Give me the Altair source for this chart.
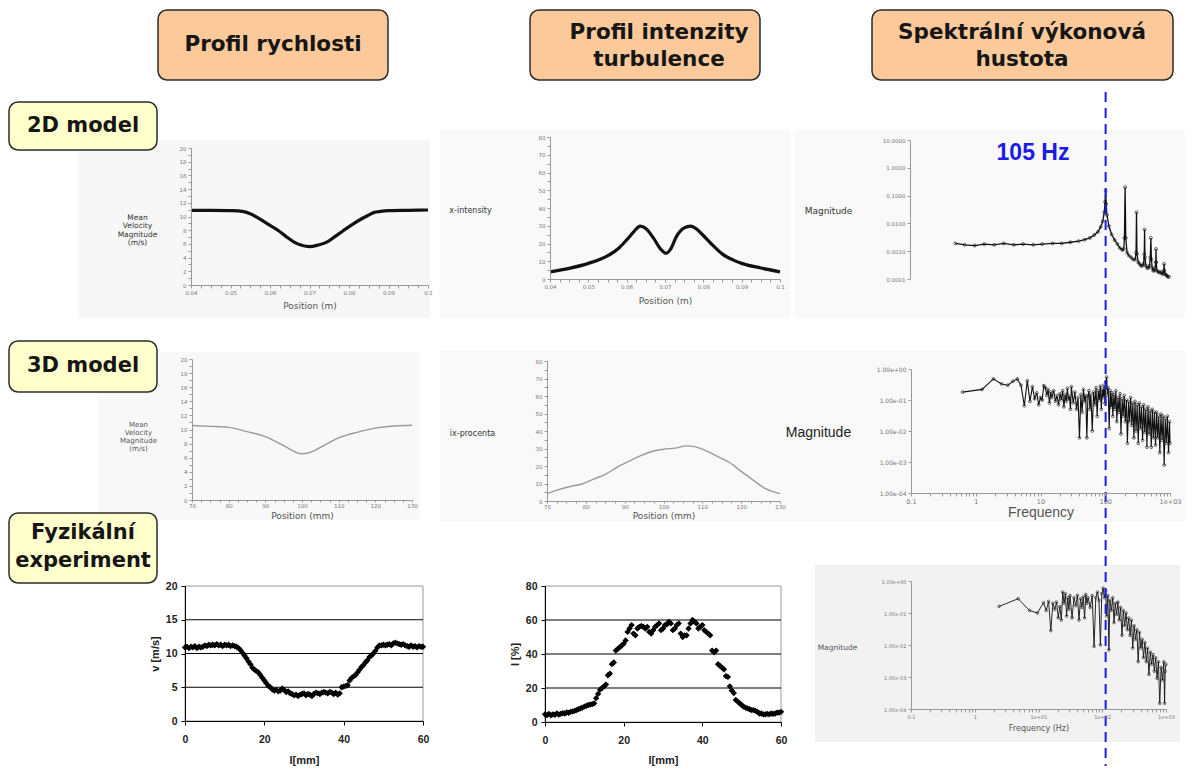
import altair as alt
import pandas as pd

# ---------------- data ----------------
# Row 1: 2D model
vel2d_pos = [0.040, 0.045, 0.050, 0.053, 0.055, 0.0575, 0.060, 0.062, 0.064, 0.066, 0.068, 0.070,
             0.072, 0.0745, 0.0765, 0.0787, 0.081, 0.083, 0.085, 0.0864, 0.088, 0.090, 0.095, 0.100]
vel2d_val = [10.9, 10.9, 10.85, 10.75, 10.4, 9.6, 8.7, 8.0, 7.1, 6.3, 5.8, 5.6,
             5.8, 6.3, 7.1, 8.0, 8.9, 9.6, 10.2, 10.6, 10.75, 10.85, 10.9, 10.95]

int2d_pos = [0.040, 0.045, 0.050, 0.055, 0.058, 0.060, 0.062, 0.0635, 0.065, 0.067, 0.069, 0.0703,
             0.0715, 0.073, 0.075, 0.0767, 0.078, 0.080, 0.082, 0.085, 0.088, 0.090, 0.095, 0.100]
int2d_val = [4.0, 6.0, 8.8, 13.0, 17.5, 22.0, 27.0, 29.8, 28.5, 23.0, 16.5, 14.5,
             17.0, 24.0, 28.8, 29.8, 28.5, 24.5, 20.0, 14.0, 10.5, 8.8, 6.2, 4.0]

psd2d_f = [0.5, 0.7, 1.0, 1.4, 2.0, 2.8, 4.0, 5.6, 8.0, 11.0,
           16.0, 22.0, 30.0, 40.0, 50.0, 60.0, 70.0, 80.0, 88.0, 95.0,
           100.0, 103.0, 105.0, 107.0, 110.0, 118.0, 130.0, 145.0, 160.0, 175.0,
           190.0, 200.0, 205.0, 210.0, 215.0, 225.0, 240.0, 260.0, 280.0, 300.0,
           310.0, 315.0, 320.0, 335.0, 350.0, 370.0, 390.0, 405.0, 415.0, 420.0,
           425.0, 440.0, 460.0, 480.0, 500.0, 515.0, 525.0, 535.0, 550.0, 570.0,
           590.0, 610.0, 625.0, 630.0, 635.0, 650.0, 680.0, 710.0, 740.0, 770.0,
           800.0, 830.0, 840.0, 850.0, 870.0, 900.0, 930.0, 960.0, 1000.0]
psd2d_m = [0.0019, 0.0017, 0.0016, 0.0018, 0.0017, 0.0019, 0.0017, 0.0018, 0.0017, 0.0018,
           0.0019, 0.0019, 0.0021, 0.0023, 0.0026, 0.0030, 0.0038, 0.0050, 0.0075, 0.012,
           0.025, 0.06, 0.15, 0.05, 0.02, 0.008, 0.004, 0.0025, 0.0018, 0.0013,
           0.0011, 0.0012, 0.003, 0.2, 0.003, 0.0009, 0.0007, 0.0006, 0.0005, 0.0005,
           0.0009, 0.025, 0.0008, 0.0004, 0.00035, 0.0003, 0.0003, 0.00035, 0.0008, 0.006,
           0.0006, 0.0003, 0.00025, 0.00025, 0.0003, 0.0006, 0.003, 0.0005, 0.00025, 0.0002,
           0.0002, 0.00025, 0.0004, 0.0012, 0.0004, 0.0002, 0.00018, 0.00017, 0.00018, 0.00016,
           0.00015, 0.0002, 0.00035, 0.0002, 0.00015, 0.00014, 0.00013, 0.00012, 0.00012]
peak_hz = 105

# Row 2: 3D model
vel3d_pos = [70, 75, 80, 85, 90, 95, 100, 103, 105, 110, 115, 120, 125, 130]
vel3d_val = [10.57, 10.45, 10.3, 9.7, 9.0, 7.7, 6.55, 6.9, 7.45, 8.8, 9.6, 10.2, 10.5, 10.6]

int3d_pos = [70, 73, 76, 79, 82, 85, 88, 91, 94, 97, 100, 103, 106, 108, 111, 114, 117, 120,
             123, 126, 128, 130]
int3d_val = [4.2, 6.5, 8.3, 9.7, 12.5, 15.2, 19.2, 22.6, 25.8, 28.3, 29.6, 30.2, 31.5, 31.1,
             28.7, 25.4, 22.0, 16.9, 12.1, 7.4, 5.5, 4.2]

psd3d_f = [0.625, 1.25, 1.875, 2.5, 3.125, 3.75, 4.375, 5.0, 5.625, 6.25,
           6.875, 7.5, 8.125, 8.75, 9.375, 10.0, 10.6, 11.25, 11.9, 12.5,
           13.1, 13.75, 14.4, 15.0, 16.0, 17.0, 18.0, 19.0, 20.0, 21.0,
           22.0, 23.0, 24.0, 25.0, 26.0, 27.0, 28.0, 29.0, 30.0, 32.0,
           34.0, 36.0, 38.0, 40.0, 42.0, 44.0, 46.0, 48.0, 50.0, 52.0,
           54.0, 56.0, 58.0, 60.0, 63.0, 66.0, 69.0, 72.0, 75.0, 78.0,
           81.0, 84.0, 87.0, 90.0, 93.0, 96.0, 99.0, 102.0, 105.0, 108.0,
           111.0, 115.0, 119.0, 123.0, 127.0, 131.0, 136.0, 141.0, 146.0, 151.0,
           157.0, 163.0, 169.0, 175.0, 182.0, 189.0, 196.0, 204.0, 212.0, 220.0,
           229.0, 238.0, 247.0, 257.0, 267.0, 277.0, 288.0, 299.0, 311.0, 323.0,
           336.0, 349.0, 363.0, 377.0, 392.0, 407.0, 423.0, 440.0, 457.0, 475.0,
           494.0, 513.0, 533.0, 554.0, 576.0, 598.0, 622.0, 646.0, 671.0, 697.0,
           725.0, 753.0, 783.0, 813.0, 845.0, 878.0, 912.0, 948.0, 985.0, 1000.0]
psd3d_m = [0.18, 0.22, 0.48, 0.33, 0.30, 0.40, 0.48, 0.30, 0.065, 0.42,
           0.09, 0.27, 0.11, 0.17, 0.07, 0.12, 0.10, 0.29, 0.25, 0.14,
           0.22, 0.08, 0.18, 0.12, 0.20, 0.09, 0.14, 0.07, 0.16, 0.10,
           0.20, 0.06, 0.15, 0.09, 0.24, 0.11, 0.13, 0.05, 0.27, 0.08,
           0.18, 0.05, 0.12, 0.006, 0.15, 0.04, 0.22, 0.09, 0.14, 0.006,
           0.13, 0.20, 0.05, 0.15, 0.01, 0.18, 0.07, 0.25, 0.03, 0.20,
           0.10, 0.28, 0.05, 0.22, 0.12, 0.30, 0.08, 0.38, 0.55, 0.15,
           0.25, 0.012, 0.20, 0.06, 0.17, 0.03, 0.15, 0.05, 0.20, 0.02,
           0.12, 0.04, 0.16, 0.008, 0.11, 0.03, 0.14, 0.02, 0.10, 0.004,
           0.09, 0.02, 0.12, 0.015, 0.08, 0.006, 0.09, 0.01, 0.07, 0.004,
           0.08, 0.012, 0.06, 0.005, 0.07, 0.009, 0.05, 0.003, 0.06, 0.008,
           0.045, 0.003, 0.05, 0.006, 0.04, 0.0035, 0.04, 0.006, 0.03, 0.002,
           0.035, 0.005, 0.03, 0.0008, 0.025, 0.004, 0.03, 0.002, 0.02, 0.004]

# Row 3: physical experiment (samples every 0.5 mm from 0 to 60 mm)
exp_l = [i * 0.5 for i in range(121)]
exp_v = [10.9, 11.0, 10.8, 11.0, 10.9, 11.1, 10.8, 11.0, 10.9, 11.0, 11.2,
         11.1, 11.3, 11.2, 11.3, 11.2, 11.4, 11.2, 11.3, 11.1, 11.3,
         11.2, 11.3, 11.1, 11.2, 11.1, 11.0, 10.8, 10.5, 10.1, 9.7,
         9.3, 8.8, 8.4, 7.9, 7.6, 7.4, 7.2, 6.8, 6.4, 6.0,
         5.6, 5.2, 5.0, 4.7, 4.5, 4.6, 4.4, 4.5, 4.8, 4.6,
         4.3, 4.4, 4.1, 4.0, 3.8, 3.9, 3.7, 3.9, 4.0, 4.1,
         3.8, 4.0, 3.9, 3.7, 4.0, 4.2, 4.1, 4.0, 4.2, 4.3,
         4.2, 4.1, 4.3, 4.2, 4.0, 4.2, 3.9, 4.1, 5.0, 5.1,
         5.2, 5.3, 6.0, 6.4, 6.6, 6.8, 7.2, 7.6, 8.0, 8.3,
         8.7, 9.0, 9.5, 9.7, 10.0, 10.4, 10.9, 11.2, 11.2, 11.3,
         11.2, 11.3, 11.4, 11.2, 11.5, 11.6, 11.5, 11.4, 11.3, 11.4,
         11.2, 11.1, 11.0, 11.2, 11.0, 11.1, 10.9, 11.1, 11.0, 11.0]
exp_i = [4.5, 4.0, 4.8, 3.9, 4.5, 4.2, 5.0, 4.4, 4.8, 5.2, 5.0,
         5.6, 5.4, 6.0, 6.3, 6.5, 7.0, 7.5, 8.0, 8.5, 9.0,
         9.5, 10.0, 10.2, 10.5, 11.0, 14.0, 16.5, 19.0, 20.0, 21.0,
         22.0, 27.5, 28.5, 34.0, 35.0, 42.0, 43.0, 44.0, 45.0, 46.0,
         48.0, 53.0, 55.0, 57.0, 52.0, 51.0, 55.0, 56.0, 56.5, 56.0,
         55.0, 56.0, 53.0, 52.0, 54.0, 56.0, 57.0, 58.0, 54.0, 55.0,
         57.0, 57.5, 59.0, 58.0, 54.0, 55.0, 57.0, 58.0, 52.0, 50.0,
         51.0, 51.0, 55.0, 58.0, 60.0, 59.0, 58.0, 55.0, 56.0, 57.0,
         54.0, 53.0, 52.0, 51.0, 42.0, 41.0, 42.0, 34.0, 33.0, 32.0,
         31.0, 27.0, 26.5, 21.0, 18.5, 17.0, 13.0, 12.0, 11.0, 10.0,
         9.0, 8.5, 8.0, 7.5, 7.0, 7.0, 6.5, 6.0, 5.0, 5.0,
         4.5, 4.5, 4.8, 4.5, 5.0, 4.8, 5.0, 5.5, 5.5, 6.0]

psdexp_f = [2.4, 4.8, 7.2, 9.6, 12.0, 13.2, 14.4, 15.6, 16.8, 18.0,
            19.2, 20.4, 21.6, 22.8, 24.0, 25.2, 26.4, 27.6, 28.8, 30.0,
            31.2, 33.6, 36.0, 38.4, 40.8, 43.2, 45.6, 48.0, 50.4, 52.8,
            55.2, 57.6, 60.0, 64.8, 69.6, 74.4, 79.2, 84.0, 88.8, 93.6,
            98.4, 103.2, 108.0, 112.8, 117.6, 122.4, 127.2, 132.0, 139.0, 146.0,
            153.0, 160.0, 168.0, 176.0, 185.0, 194.0, 204.0, 214.0, 225.0, 236.0,
            248.0, 260.0, 273.0, 287.0, 301.0, 316.0, 332.0, 349.0, 366.0, 384.0,
            403.0, 423.0, 444.0, 466.0, 490.0, 514.0, 540.0, 567.0, 595.0, 625.0,
            656.0, 689.0, 723.0, 760.0, 798.0, 838.0, 880.0, 924.0, 950.0, 970.0,
            1000.0]
psdexp_m = [0.16, 0.28, 0.12, 0.10, 0.21, 0.12, 0.23, 0.028, 0.20, 0.13,
            0.22, 0.07, 0.16, 0.06, 0.45, 0.20, 0.40, 0.08, 0.30, 0.13,
            0.35, 0.07, 0.30, 0.17, 0.36, 0.06, 0.28, 0.15, 0.32, 0.07,
            0.38, 0.20, 0.30, 0.15, 0.35, 0.009, 0.30, 0.45, 0.25, 0.01,
            0.40, 0.60, 0.30, 0.50, 0.08, 0.35, 0.007, 0.25, 0.12, 0.30,
            0.05, 0.20, 0.09, 0.22, 0.06, 0.15, 0.02, 0.12, 0.04, 0.10,
            0.03, 0.07, 0.02, 0.06, 0.008, 0.04, 0.015, 0.03, 0.003, 0.025,
            0.008, 0.015, 0.004, 0.012, 0.003, 0.008, 0.0012, 0.006, 0.0025, 0.005,
            0.0015, 0.004, 0.0009, 0.003, 0.00015, 0.002, 0.0008, 0.003, 0.00015, 0.0015,
            0.0025]

# text
col_titles = ["Profil rychlosti", ["Profil intenzity", "turbulence"], ["Spektrální výkonová", "hustota"]]
row_titles = ["2D model", "3D model", ["Fyzikální", "experiment"]]

# ---------------- layout / style ----------------
W, H = 1178, 758
SANS = "DejaVu Sans"
ARIAL = "Liberation Sans"
one = pd.DataFrame({"k": [0]})

ticks_pos_m = [0.04 + 0.0025 * i for i in range(25)]
ticks_0_20 = list(range(0, 21))
ticks_0_80 = list(range(0, 81, 5))
ticks_70_130 = [70 + 2.5 * i for i in range(25)]
log_x_ticks = [m * 10.0 ** e for e in range(-1, 3) for m in range(1, 10)] + [1000.0]
log_y_ticks_2d = [0.0001, 0.001, 0.01, 0.1, 1.0, 10.0]
log_y_ticks = [0.0001, 0.001, 0.01, 0.1, 1.0]

DEC = "abs(log(datum.value)/LN10 - round(log(datum.value)/LN10)) < 1e-6"
lab_pos_m = "abs(datum.value*100 - round(datum.value*100)) < 1e-6 ? format(datum.value, '.2~f') : ''"
lab_even = "datum.value % 2 == 0 ? '' + datum.value : ''"
lab_10 = "datum.value % 10 == 0 ? '' + datum.value : ''"
lab_plain = "'' + datum.value"
lab_4f = DEC + " ? format(datum.value, '.4f') : ''"
lab_e2 = DEC + " ? (datum.value >= 1 ? '1.00e+00' : '1.00e-0' + round(-log(datum.value)/LN10)) : ''"
lab_x3d = DEC + " ? (datum.value >= 1000 ? '1e+03' : format(datum.value, '~g')) : ''"
lab_xexp = DEC + " ? (datum.value >= 10 ? '1e+0' + round(log(datum.value)/LN10) : format(datum.value, '~g')) : ''"


def img_axis(orient, offset, title, values, expr, **kw):
    base = dict(orient=orient, offset=offset, title=title, values=values, labelExpr=expr,
                grid=False, labelFont=SANS, labelFontSize=5.5, labelColor="#777",
                labelPadding=2, domainColor="#999", tickColor="#999", tickSize=3,
                titleFont=SANS, titleFontSize=9, titleColor="#555", titleFontWeight="normal",
                labelFlush=False, labelOverlap=False, titleBaseline="middle", zindex=1)
    base.update(kw)
    return alt.Axis(**base)


def rect(x0, x1, y0, y1, **style):
    return alt.Chart(one).mark_rect(**style).encode(
        x=alt.value(x0), x2=alt.value(x1), y=alt.value(y0), y2=alt.value(y1))


def label(cx, cy, txt, size, **style):
    return alt.Chart(one).mark_text(font=SANS, fontSize=size, fontWeight="bold", color="#161616",
                                    align="center", baseline="middle", **style).encode(
        x=alt.value(cx), y=alt.value(cy), text=alt.value(txt))


def spec_line(df, width=0.9, psize=7):
    return alt.Chart(df).mark_line(
        color="#111", strokeWidth=width,
        point=alt.OverlayMarkDef(filled=False, size=psize, strokeWidth=0.6, color="#111"))


# ---------------- background "screenshots" ----------------
bgs = [
    rect(70, 422, 132, 310, fill="#f7f7f7"),
    rect(432, 782, 122, 310, fill="#f9f9f9"),
    rect(787, 1177, 122, 310, fill="#f9f9f9"),
    rect(90, 412, 344, 512, fill="#f8f8f8"),
    rect(432, 777, 342, 514, fill="#f9f9f9"),
    rect(772, 1177, 342, 514, fill="#f9f9f9"),
    rect(807, 1172, 557, 734, fill="#f2f2f2"),
]

# ---------------- row 1 ----------------
p11 = alt.Chart(pd.DataFrame({"x": vel2d_pos, "y": vel2d_val})).mark_line(
    color="#111", strokeWidth=3.2, interpolate="monotone").encode(
    x=alt.X("x:Q", scale=alt.Scale(domain=[0.04, 0.1], range=[183, 420], nice=False, zero=False),
            axis=img_axis("bottom", 277 - H, "Position (m)", ticks_pos_m, lab_pos_m, titleY=20)),
    y=alt.Y("y:Q", scale=alt.Scale(domain=[0, 20], range=[277, 140], nice=False),
            axis=img_axis("left", -183, ["Mean", "Velocity", "Magnitude", "(m/s)"], ticks_0_20, lab_even,
                          titleAngle=0, titleX=-54, titleY=209, titleAlign="center",
                          titleFontSize=7.5, titleLineHeight=8.5, titleColor="#333")))

p12 = alt.Chart(pd.DataFrame({"x": int2d_pos, "y": int2d_val})).mark_line(
    color="#111", strokeWidth=3.2, interpolate="monotone").encode(
    x=alt.X("x:Q", scale=alt.Scale(domain=[0.04, 0.1], range=[542, 772], nice=False, zero=False),
            axis=img_axis("bottom", 271 - H, "Position (m)", ticks_pos_m, lab_pos_m, titleY=21)),
    y=alt.Y("y:Q", scale=alt.Scale(domain=[0, 80], range=[271, 129], nice=False),
            axis=img_axis("left", -542, "x-intensity", ticks_0_80, lab_10,
                          titleAngle=0, titleX=-80, titleY=202, titleAlign="center",
                          titleFontSize=8, titleColor="#333")))

spec13 = spec_line(pd.DataFrame({"f": psd2d_f, "m": psd2d_m}), width=1.3, psize=9).encode(
    x=alt.X("f:Q", scale=alt.Scale(type="log", domain=[0.1, 1000], range=[902, 1161], nice=False),
            axis=img_axis("bottom", 271 - H, "Frequency (Hz)", log_x_ticks, lab_4f, titleY=20)),
    y=alt.Y("m:Q", scale=alt.Scale(type="log", domain=[0.0001, 10], range=[271, 132], nice=False),
            axis=img_axis("left", -902, "Magnitude", log_y_ticks_2d, lab_4f,
                          titleAngle=0, titleX=-82, titleY=202, titleAlign="center", titleColor="#333")))
vline = alt.Chart(one).mark_rule(color="#1b1be8", strokeWidth=2, strokeDash=[10, 6]).encode(
    x=alt.XDatum(peak_hz, axis=None), y=alt.value(84), y2=alt.value(H))
peak_text = alt.Chart(one).mark_text(font=ARIAL, fontSize=23, fontWeight="bold", color="#1b1be8",
                                     align="center", baseline="middle").encode(
    x=alt.value(1025), y=alt.value(145), text=alt.value(f"{peak_hz} Hz"))
p13 = alt.layer(spec13, vline, peak_text)

# ---------------- row 2 ----------------
p21 = alt.Chart(pd.DataFrame({"x": vel3d_pos, "y": vel3d_val})).mark_line(
    color="#9a9a9a", strokeWidth=1.4, interpolate="monotone").encode(
    x=alt.X("x:Q", scale=alt.Scale(domain=[70, 130], range=[184, 404], nice=False, zero=False),
            axis=img_axis("bottom", 492 - H, "Position (mm)", ticks_70_130, lab_10, titleY=15,
                          tickSize=2, labelPadding=1)),
    y=alt.Y("y:Q", scale=alt.Scale(domain=[0, 20], range=[492, 351], nice=False),
            axis=img_axis("left", -184, ["Mean", "Velocity", "Magnitude", "(m/s)"], ticks_0_20, lab_even,
                          titleAngle=0, titleX=-54, titleY=416, titleAlign="center",
                          titleFontSize=7, titleLineHeight=8, titleColor="#555")))

p22 = alt.Chart(pd.DataFrame({"x": int3d_pos, "y": int3d_val})).mark_line(
    color="#9a9a9a", strokeWidth=1.4, interpolate="monotone").encode(
    x=alt.X("x:Q", scale=alt.Scale(domain=[70, 130], range=[539, 772], nice=False, zero=False),
            axis=img_axis("bottom", 493 - H, "Position (mm)", ticks_70_130, lab_10, titleY=14,
                          tickSize=2, labelPadding=1)),
    y=alt.Y("y:Q", scale=alt.Scale(domain=[0, 80], range=[493, 353], nice=False),
            axis=img_axis("left", -539, "ix-procenta", ticks_0_80, lab_10,
                          titleAngle=0, titleX=-75, titleY=425, titleAlign="center",
                          titleFontSize=8, titleColor="#333")))

p23 = spec_line(pd.DataFrame({"f": psd3d_f, "m": psd3d_m}), width=1.1, psize=8).encode(
    x=alt.X("f:Q", scale=alt.Scale(type="log", domain=[0.1, 1000], range=[903, 1162], nice=False),
            axis=img_axis("bottom", 485 - H, "Frequency", log_x_ticks, lab_x3d, titleY=19,
                          titleFont=ARIAL, titleFontSize=14, labelFontSize=6.5)),
    y=alt.Y("m:Q", scale=alt.Scale(type="log", domain=[0.0001, 1], range=[485, 361], nice=False),
            axis=img_axis("left", -903, "Magnitude", log_y_ticks, lab_e2,
                          titleAngle=0, titleX=-93, titleY=424, titleAlign="center",
                          titleFont=ARIAL, titleFontSize=14, titleColor="#222", labelFontSize=6)))

# ---------------- row 3 ----------------
exp_df = pd.DataFrame({"l": exp_l, "v": exp_v, "i": exp_i})


def exp_axis(orient, offset, title, values, expr, **kw):
    return img_axis(orient, offset, title, values, expr,
                    labelFont=ARIAL, labelFontSize=10.5, labelFontWeight="bold", labelColor="#222",
                    domainColor="#000", tickColor="#000", tickSize=4,
                    titleFont=ARIAL, titleFontSize=11, titleFontWeight="bold", titleColor="#222", **kw)


def exp_layers(field, ydom, xr, yr, grid_vals, ytitle, ytitle_x, yvals):
    xs = dict(domain=[0, 60], range=xr, nice=False, zero=False)
    ys = dict(domain=ydom, range=yr, nice=False)
    frame = alt.Chart(one).mark_rect(filled=False, stroke="#9a9a9a", strokeWidth=1).encode(
        x=alt.XDatum(0, scale=alt.Scale(**xs), axis=None), x2=alt.X2Datum(60),
        y=alt.YDatum(ydom[0], scale=alt.Scale(**ys), axis=None), y2=alt.Y2Datum(ydom[1]))
    grid = alt.Chart(pd.DataFrame({"g": grid_vals})).mark_rule(color="#000", strokeWidth=1.2).encode(
        x=alt.XDatum(0, scale=alt.Scale(**xs), axis=None), x2=alt.X2Datum(60),
        y=alt.Y("g:Q", scale=alt.Scale(**ys), axis=None))
    pts = alt.Chart(exp_df).mark_point(shape="diamond", filled=True, size=40, color="#000", opacity=1).encode(
        x=alt.X("l:Q", scale=alt.Scale(**xs),
                axis=exp_axis("bottom", yr[0] - H, "l[mm]", [0, 20, 40, 60], lab_plain,
                              titleY=752 - yr[0], labelPadding=9)),
        y=alt.Y(field + ":Q", scale=alt.Scale(**ys),
                axis=exp_axis("left", -xr[0], ytitle, yvals, lab_plain, titleX=ytitle_x,
                              titleY=(yr[0] + yr[1]) / 2, titleAlign="center", labelPadding=4)))
    return [frame, grid, pts]


r31 = exp_layers("v", [0, 20], [177, 415], [713, 578], [5, 10, 15], "v [m/s]", -30, [0, 5, 10, 15, 20])
r32 = exp_layers("i", [0, 80], [537, 773], [714, 578], [20, 40, 60], "I [%]", -30, [0, 20, 40, 60, 80])

p33 = spec_line(pd.DataFrame({"f": psdexp_f, "m": psdexp_m}), width=0.9, psize=7).encode(
    x=alt.X("f:Q", scale=alt.Scale(type="log", domain=[0.1, 1000], range=[903, 1158], nice=False),
            axis=img_axis("bottom", 701 - H, "Frequency (Hz)", log_x_ticks, lab_xexp, titleY=19,
                          titleFontSize=8, labelFontSize=5)),
    y=alt.Y("m:Q", scale=alt.Scale(type="log", domain=[0.0001, 1], range=[701, 573], nice=False),
            axis=img_axis("left", -903, "Magnitude", log_y_ticks, lab_e2,
                          titleAngle=0, titleX=-74, titleY=639, titleAlign="center",
                          titleFontSize=7.5, labelFontSize=5)))

# ---------------- headers and row labels ----------------
PEACH = "#fbc99a"
CREAM = "#ffffcc"
deco = [
    rect(150, 380, 2, 72, fill=PEACH, stroke="#2b2b2b", strokeWidth=1.5, cornerRadius=9),
    label(265, 37, col_titles[0], 21.5),
    rect(522, 752, 2, 72, fill=PEACH, stroke="#2b2b2b", strokeWidth=1.5, cornerRadius=9),
    label(651, 25, col_titles[1], 21.5, lineHeight=27),
    rect(864, 1165, 2, 72, fill=PEACH, stroke="#2b2b2b", strokeWidth=1.5, cornerRadius=9),
    label(1014, 25, col_titles[2], 21.5, lineHeight=27),
    rect(1, 149, 94, 142, fill=CREAM, stroke="#2b2b2b", strokeWidth=1.5, cornerRadius=9),
    label(75, 118, row_titles[0], 21),
    rect(1, 149, 333, 384, fill=CREAM, stroke="#2b2b2b", strokeWidth=1.5, cornerRadius=9),
    label(75, 358, row_titles[1], 21),
    rect(1, 149, 505, 575, fill=CREAM, stroke="#2b2b2b", strokeWidth=1.5, cornerRadius=9),
    label(75, 525, row_titles[2], 21, lineHeight=28),
]

chart = alt.layer(*bgs, p11, p12, p21, p22, p23, *r31, *r32, p33, *deco, p13).resolve_scale(
    x="independent", y="independent").resolve_axis(x="independent", y="independent").properties(
    width=W, height=H, padding=0, autosize=alt.AutoSizeParams(type="none")).configure_view(stroke=None)

chart.save("out.html", embed_options={"renderer": "svg", "actions": False})
